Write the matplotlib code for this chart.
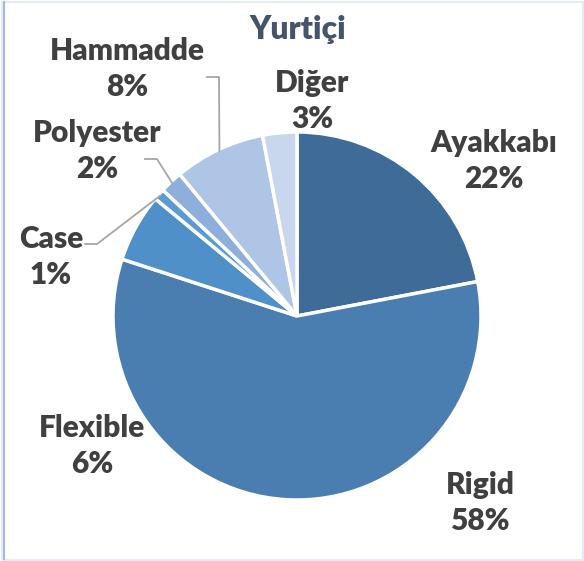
import matplotlib
matplotlib.use("Agg")
import matplotlib.pyplot as plt
import numpy as np
from matplotlib.patches import Rectangle
from matplotlib.lines import Line2D

categories = ["Ayakkabı", "Rigid", "Flexible", "Case", "Polyester", "Hammadde", "Diğer"]
values = [22, 58, 6, 1, 2, 8, 3]
colors = ["#3E6B97", "#4A7EB0", "#5090C8", "#5B9BD5", "#8EAEDB", "#AEC5E6", "#C8D7EE"]
title = "Yurtiçi"

W, H = 584, 561
fig = plt.figure(figsize=(W / 100, H / 100), dpi=100)
fig.patch.set_facecolor("white")

# border
fig.add_artist(Rectangle((1.5 / W, 1.5 / H), (W - 3) / W, (H - 3) / H, transform=fig.transFigure,
                         fill=False, edgecolor="#E4EAF6", lw=1.5))
fig.add_artist(Line2D([3.5 / W, 3.5 / W], [2 / H, 1 - 2 / H], transform=fig.transFigure,
                      color="#A3B8E3", lw=1.5))

cx, cy, r = 297, 316, 184
ax = fig.add_axes([(cx - r) / W, (H - cy - r) / H, 2 * r / W, 2 * r / H])
ax.axis("off")

wedges, _ = ax.pie(values, colors=colors, startangle=90, counterclock=False, radius=1,
                   wedgeprops=dict(edgecolor="white", linewidth=2.5))
ax.set_xlim(-1, 1)
ax.set_ylim(-1, 1)
ax.set_aspect("equal")

def px(x, y):
    return x / W, 1 - y / H

font = dict(family=["Lato", "DejaVu Sans"], fontweight="heavy", color="#404040", fontsize=21.5)

# label block centres (pixels)
label_pos = {
    "Ayakkabı": (494, 161),
    "Rigid": (480, 503),
    "Flexible": (92, 446),
    "Case": (51, 257),
    "Polyester": (97, 151),
    "Hammadde": (127, 69),
    "Diğer": (312, 101),
}
for cat, v in zip(categories, values):
    x, y = px(*label_pos[cat])
    fig.text(x, y, f"{cat}\n{v}%", ha="center", va="center", linespacing=1.34, **font)

fig.text(*px(298, 30), title, ha="center", va="center", fontsize=23,
         family=["Lato", "DejaVu Sans"], fontweight="heavy", color="#44546A")

# leader lines from label box edge to wedge edge
leader_start = {
    "Hammadde": [(207, 77), (219, 77)],
    "Polyester": [(145, 159), (157, 159)],
    "Case": [(85, 244), (97, 244)],
}
cum = np.cumsum([0] + values)
total = sum(values)
for i, cat in enumerate(categories):
    if cat not in leader_start:
        continue
    mid = (cum[i] + cum[i + 1]) / 2 / total
    ang = np.deg2rad(90 - 360 * mid)
    ex, ey = cx + r * 0.99 * np.cos(ang), cy - r * 0.99 * np.sin(ang)
    pts = leader_start[cat] + [(ex, ey)]
    xs = [p[0] / W for p in pts]
    ys = [1 - p[1] / H for p in pts]
    fig.add_artist(Line2D(xs, ys, transform=fig.transFigure, color="#A6A6A6", lw=1.3))

fig.savefig("out.png", dpi=100, facecolor="white")
